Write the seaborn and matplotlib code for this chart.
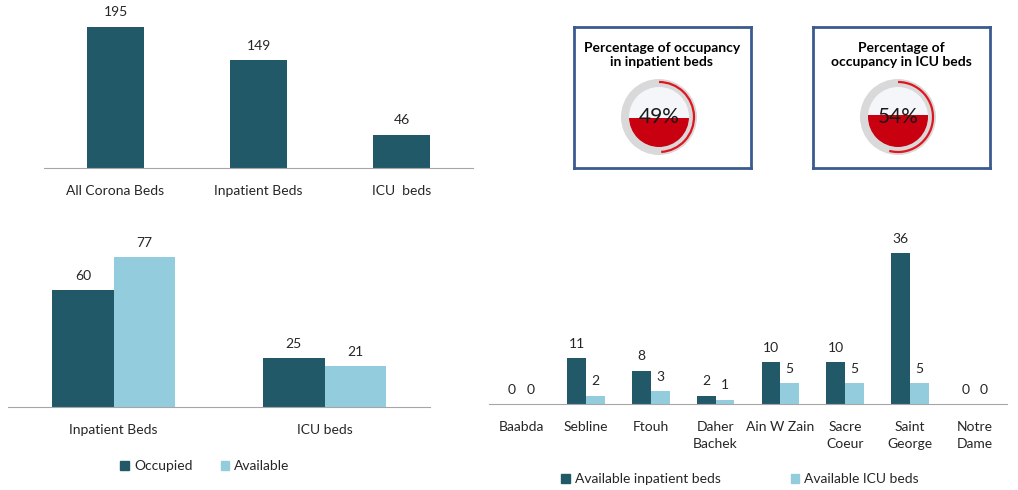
import numpy as np
import pandas as pd
import matplotlib
matplotlib.use("Agg")
import matplotlib.pyplot as plt
from matplotlib.patches import Circle, Rectangle, Arc, Patch
import seaborn as sns

# data
total_cats = ["All Corona Beds", "Inpatient Beds", "ICU  beds"]
total_vals = [195, 149, 46]

occ_cats = ["Inpatient Beds", "ICU beds"]
occupied = [60, 25]
available = [77, 21]

hospitals = ["Baabda", "Sebline", "Ftouh", "Daher\nBachek", "Ain W Zain",
             "Sacre\nCoeur", "Saint\nGeorge", "Notre\nDame"]
avail_inpatient = [0, 11, 8, 2, 10, 10, 36, 0]
avail_icu = [0, 2, 3, 1, 5, 5, 5, 0]

gauge_titles = ["Percentage of occupancy\nin inpatient beds",
                "Percentage of\noccupancy in ICU beds"]
gauge_pcts = [49, 54]

DARK = "#215968"
LIGHT = "#93CDDD"
RED = "#C8000F"
AXIS_GREY = "#A6A6A6"
BORDER = "#3B5B8E"

sns.set_style("white")
plt.rcParams["font.family"] = ["Lato", "DejaVu Sans"]
plt.rcParams["text.color"] = "#262626"

fig = plt.figure(figsize=(10.18, 4.9), dpi=100)


def style_axis(ax, n):
    sns.despine(ax=ax, left=True)
    ax.spines["bottom"].set_color(AXIS_GREY)
    ax.set_yticks([])
    ax.set_xlim(-0.5, n - 0.5)
    ax.set_xticks(np.arange(-0.5, n), minor=True)
    ax.tick_params(axis="x", which="minor", length=5, color=AXIS_GREY, width=1)
    ax.tick_params(axis="x", which="major", length=0, pad=12, labelsize=10,
                   labelcolor="#262626")
    ax.set_xlabel("")
    ax.set_ylabel("")
    for c in ax.containers:
        ax.bar_label(c, padding=6, fontsize=10, color="#262626")


# top-left: totals
ax1 = fig.add_axes([44 / 1018, 322 / 490, 429 / 1018, 163 / 490])
sns.barplot(x=total_cats, y=total_vals, color=DARK, saturation=1, width=0.4,
            linewidth=0, ax=ax1)
ax1.set_ylim(0, 225)
style_axis(ax1, len(total_cats))

# bottom-left: occupied vs available
df_occ = pd.DataFrame({
    "cat": occ_cats * 2,
    "val": occupied + available,
    "kind": ["Occupied"] * len(occ_cats) + ["Available"] * len(occ_cats),
})
ax2 = fig.add_axes([8 / 1018, 83 / 490, 422 / 1018, 187 / 490])
sns.barplot(data=df_occ, x="cat", y="val", hue="kind", palette=[DARK, LIGHT],
            saturation=1, width=0.58, linewidth=0, legend=False, ax=ax2)
ax2.set_ylim(0, 96)
style_axis(ax2, len(occ_cats))
ax2.legend(handles=[Patch(color=DARK, label="Occupied"),
                    Patch(color=LIGHT, label="Available")],
           loc="center", bbox_to_anchor=(0.467, -0.316), ncol=2, frameon=False,
           handlelength=0.6, handleheight=0.6, handletextpad=0.4,
           columnspacing=2.0, fontsize=10)

# bottom-right: per hospital
df_h = pd.DataFrame({
    "hosp": hospitals * 2,
    "val": avail_inpatient + avail_icu,
    "kind": ["Available inpatient beds"] * len(hospitals)
            + ["Available ICU beds"] * len(hospitals),
})
ax3 = fig.add_axes([489 / 1018, 86 / 490, 518 / 1018, 184 / 490])
sns.barplot(data=df_h, x="hosp", y="val", hue="kind", palette=[DARK, LIGHT],
            saturation=1, width=0.58, linewidth=0, legend=False, ax=ax3)
ax3.set_ylim(0, 44)
style_axis(ax3, len(hospitals))
for t in ax3.get_xticklabels():
    t.set_linespacing(1.55)
ax3.legend(handles=[Patch(color=DARK, label="Available inpatient beds"),
                    Patch(color=LIGHT, label="Available ICU beds")],
           loc="center", bbox_to_anchor=(0.485, -0.408), ncol=2, frameon=False,
           handlelength=0.6, handleheight=0.6, handletextpad=0.4,
           columnspacing=5.0, fontsize=10)


# gauge boxes
def draw_gauge(ax, title, pct):
    ax.set_xlim(0, 177)
    ax.set_ylim(0, 141)
    ax.set_xticks([])
    ax.set_yticks([])
    for s in ax.spines.values():
        s.set_color(BORDER)
        s.set_linewidth(2)
    cx, cy, r_out, r_in = 85, 51, 38, 30
    ax.add_patch(Circle((cx, cy), r_out, color="#D9D9D9", lw=0))
    ax.add_patch(Circle((cx, cy), r_in, color="#F4F6FA", lw=0))
    level = cy - r_in + 2 * r_in * pct / 100
    clip = Rectangle((cx - r_in - 1, cy - r_in - 1), 2 * r_in + 2,
                     level - (cy - r_in - 1), transform=ax.transData)
    fill = Circle((cx, cy), r_in, color=RED, lw=0)
    ax.add_patch(fill)
    fill.set_clip_path(clip)
    ax.add_patch(Arc((cx, cy), 70, 70, theta1=90 - 3.6 * pct, theta2=90,
                     color="#E0151F", lw=1.6))
    ax.text(cx, cy, f"{pct}%", ha="center", va="center", fontsize=15,
            color="#1a1a1a")
    ax.text(88, 113, title, ha="center", va="center", fontsize=10,
            fontweight="bold", linespacing=1.3, color="black")


for left, title, pct in zip([574, 813], gauge_titles, gauge_pcts):
    axg = fig.add_axes([left / 1018, 322 / 490, 177 / 1018, 141 / 490])
    draw_gauge(axg, title, pct)

fig.savefig("out.png", dpi=100)
